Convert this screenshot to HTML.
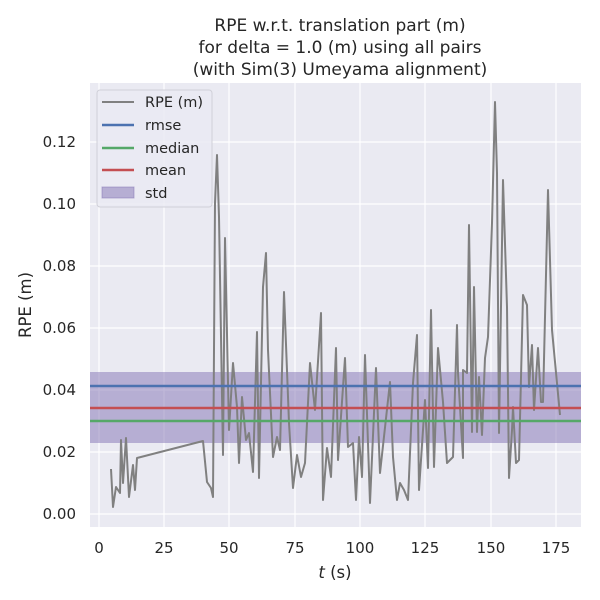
<!DOCTYPE html>
<html><head><style>body{margin:0;background:#fff}svg{display:block;font-family:"DejaVu Sans","Liberation Sans",sans-serif}</style></head><body>
<svg width="600" height="600" xmlns="http://www.w3.org/2000/svg">
<rect x="90" y="83" width="491" height="444" fill="#eaeaf2"/>
<g stroke="#fff" stroke-width="1.2">
<line x1="99" y1="83" x2="99" y2="527"/><line x1="164" y1="83" x2="164" y2="527"/><line x1="229" y1="83" x2="229" y2="527"/><line x1="295" y1="83" x2="295" y2="527"/><line x1="360" y1="83" x2="360" y2="527"/><line x1="425" y1="83" x2="425" y2="527"/><line x1="491" y1="83" x2="491" y2="527"/><line x1="556" y1="83" x2="556" y2="527"/>
<line x1="90" y1="514" x2="581" y2="514"/><line x1="90" y1="452" x2="581" y2="452"/><line x1="90" y1="390" x2="581" y2="390"/><line x1="90" y1="328" x2="581" y2="328"/><line x1="90" y1="266" x2="581" y2="266"/><line x1="90" y1="204" x2="581" y2="204"/><line x1="90" y1="142" x2="581" y2="142"/>
</g>
<rect x="90" y="372" width="491" height="71" fill="#8172b3" fill-opacity="0.5"/>
<polyline fill="none" stroke="#808080" stroke-width="2" stroke-linejoin="round" points="111,469 113,507 116,487 120,493 121,440 123,483 126,438 129,497 133,465 135,490 137,458 203,441 207,482 211,488 213,497 215,203 217,155 219,217 223,455 225,238 229,430 233,363 237,407 239,463 242,397 246,440 249,433 253,472 257,332 259,478 263,287 266,253 268,350 273,457 277,437 280,450 284,292 289,423 293,488 297,455 301,477 305,463 310,363 315,410 321,313 323,500 327,448 331,477 336,348 338,460 345,358 348,447 353,443 356,500 359,437 362,477 365,355 370,503 376,368 380,473 390,382 393,457 397,500 400,483 404,490 408,500 413,383 417,335 419,490 425,400 428,468 431,310 434,467 438,348 443,402 447,463 453,457 457,325 458,373 463,458 463,370 467,373 469,225 472,432 474,287 477,432 479,377 482,435 485,358 488,337 492,223 495,102 497,173 499,433 503,180 507,307 509,478 512,430 513,407 516,463 519,460 523,295 527,305 529,387 532,345 534,410 538,348 541,402 543,402 548,190 552,330 560,415"/>
<line x1="90" y1="386" x2="581" y2="386" stroke="#4c72b0" stroke-width="2.5"/>
<line x1="90" y1="408" x2="581" y2="408" stroke="#c44e52" stroke-width="2.5"/>
<line x1="90" y1="421" x2="581" y2="421" stroke="#55a868" stroke-width="2.5"/>
<g>
<rect x="97" y="90" width="115" height="117" rx="3" fill="#eaeaf2" fill-opacity="0.8" stroke="#d0d0d8"/>
<line x1="102" y1="102" x2="134" y2="102" stroke="#808080" stroke-width="2"/>
<line x1="102" y1="125" x2="134" y2="125" stroke="#4c72b0" stroke-width="2.5"/>
<line x1="102" y1="148" x2="134" y2="148" stroke="#55a868" stroke-width="2.5"/>
<line x1="102" y1="170" x2="134" y2="170" stroke="#c44e52" stroke-width="2.5"/>
<rect x="102" y="187" width="32" height="11" fill="#8172b3" fill-opacity="0.5" stroke="#8172b3" stroke-opacity="0.5"/>
<g font-size="14.5" fill="#262626"><text x="145" y="107">RPE (m)</text><text x="145" y="130">rmse</text><text x="145" y="153">median</text><text x="145" y="175">mean</text><text x="145" y="198">std</text></g>
</g>
<g font-size="15" fill="#262626" text-anchor="middle">
<text x="99" y="553">0</text><text x="164" y="553">25</text><text x="229" y="553">50</text><text x="295" y="553">75</text><text x="360" y="553">100</text><text x="425" y="553">125</text><text x="491" y="553">150</text><text x="556" y="553">175</text>
</g>
<g font-size="15" fill="#262626" text-anchor="end">
<text x="76" y="519">0.00</text><text x="76" y="457">0.02</text><text x="76" y="395">0.04</text><text x="76" y="333">0.06</text><text x="76" y="271">0.08</text><text x="76" y="209">0.10</text><text x="76" y="147">0.12</text>
</g>
<text x="335" y="578" font-size="16.5" fill="#262626" text-anchor="middle"><tspan font-style="italic">t</tspan> (s)</text>
<text transform="translate(31,305) rotate(-90)" font-size="16.5" fill="#262626" text-anchor="middle">RPE (m)</text>
<g font-size="17" fill="#262626" text-anchor="middle">
<text x="340" y="31">RPE w.r.t. translation part (m)</text>
<text x="340" y="53">for delta = 1.0 (m) using all pairs</text>
<text x="340" y="75">(with Sim(3) Umeyama alignment)</text>
</g>
</svg>
</body></html>
